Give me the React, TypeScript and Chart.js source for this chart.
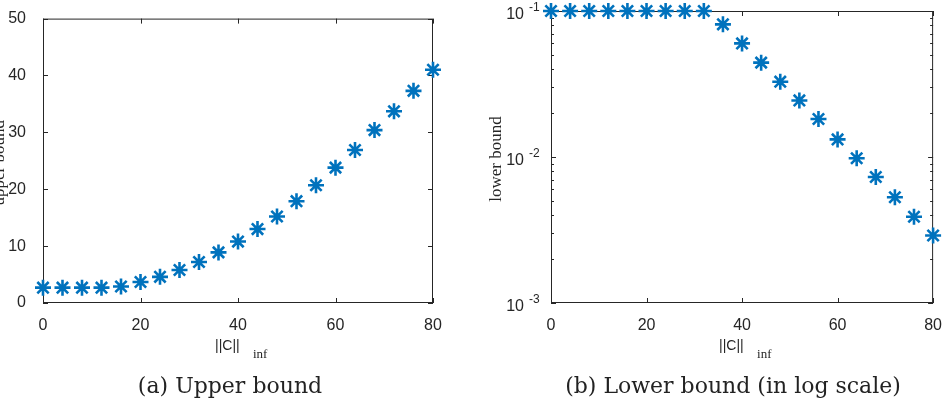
import { useEffect, useRef } from "react";
import { Chart, registerables } from "chart.js";

Chart.register(...registerables);

// ||C||_inf values on the horizontal axis of both panels
const normC = [0, 4, 8, 12, 16, 20, 24, 28, 32, 36, 40, 44, 48, 52, 56, 60, 64, 68, 72, 76, 80];
// panel (a): upper bound
const upperBound = [2.7, 2.7, 2.7, 2.7, 2.9, 3.7, 4.6, 5.8, 7.2, 8.9, 10.8, 13.0, 15.2, 17.9, 20.7, 23.8, 26.9, 30.4, 33.7, 37.3, 41.0];
// panel (b): lower bound (log axis)
const lowerBound = [0.1, 0.1, 0.1, 0.1, 0.1, 0.1, 0.1, 0.1, 0.1, 0.081, 0.060, 0.0443, 0.0328, 0.0244, 0.0182, 0.0132, 0.0098, 0.0073, 0.0053, 0.0039, 0.0029];

const xTickValues = [0, 20, 40, 60, 80];
const upperTickValues = [0, 10, 20, 30, 40, 50];
const lowerDecades = [-3, -2, -1];

const BLUE = "#0072BD";
const INK = "#262626";
const SANS = '"Liberation Sans", Arial, Helvetica, sans-serif';
const SERIF = '"Liberation Serif", "Times New Roman", serif';
const CAPTION_FONT = '"DejaVu Serif", serif';
const H = 407;

type PanelText = {
  log: boolean;
  yLabel: string;
  yLabelBaseX: number;
  caption: string;
  captionX: number;
};

function axesFrame(t: PanelText) {
  return {
    id: "axesFrame",
    beforeDatasetsDraw(chart: any) {
      const { ctx, chartArea } = chart;
      const { left, right, top, bottom } = chartArea;
      const xs = chart.scales.x;
      const ys = chart.scales.y;
      ctx.save();
      ctx.strokeStyle = INK;
      ctx.lineWidth = 1;
      ctx.strokeRect(left + 0.5, top + 0.5, right - left - 1, bottom - top - 1);
      ctx.beginPath();
      for (const v of xTickValues) {
        const px = Math.round(xs.getPixelForValue(v)) + 0.5;
        ctx.moveTo(px, bottom);
        ctx.lineTo(px, bottom - 5);
        ctx.moveTo(px, top);
        ctx.lineTo(px, top + 5);
      }
      const yTick = (v: number, len: number) => {
        const py = Math.round(ys.getPixelForValue(v)) + 0.5;
        ctx.moveTo(left, py);
        ctx.lineTo(left + len, py);
        ctx.moveTo(right, py);
        ctx.lineTo(right - len, py);
      };
      if (t.log) {
        for (const d of lowerDecades) {
          yTick(Math.pow(10, d), 5);
          if (d < -1) for (let k = 2; k <= 9; k++) yTick(k * Math.pow(10, d), 3);
        }
      } else {
        for (const v of upperTickValues) yTick(v, 5);
      }
      ctx.stroke();
      ctx.restore();
    },
    afterDraw(chart: any) {
      const { ctx, chartArea } = chart;
      const { left, right, top, bottom } = chartArea;
      const cx = (left + right) / 2;
      const ys = chart.scales.y;
      ctx.save();
      ctx.fillStyle = INK;

      // log tick labels: 10 with raised exponent
      if (t.log) {
        for (const d of lowerDecades) {
          const py = ys.getPixelForValue(Math.pow(10, d));
          ctx.font = `16px ${SANS}`;
          ctx.textAlign = "right";
          ctx.textBaseline = "middle";
          ctx.fillText("10", left - 27, py + 4);
          ctx.font = `12px ${SANS}`;
          ctx.textAlign = "left";
          ctx.fillText(String(d), left - 22, py - 3);
        }
      }

      // y-axis title
      ctx.save();
      ctx.translate(t.yLabelBaseX, (top + bottom) / 2 + 2);
      ctx.rotate(-Math.PI / 2);
      ctx.font = `17px ${SERIF}`;
      ctx.textAlign = "center";
      ctx.textBaseline = "alphabetic";
      ctx.fillText(t.yLabel, 0, 0);
      ctx.restore();

      // x-axis title ||C||_inf
      ctx.textBaseline = "middle";
      ctx.textAlign = "left";
      ctx.font = `14px ${SANS}`;
      ctx.fillText("||C||", cx - 23, bottom + 43);
      ctx.font = `13px ${SERIF}`;
      ctx.fillText("inf", cx + 15, bottom + 52);

      // sub-figure caption
      ctx.fillStyle = "#222";
      ctx.font = `22px ${CAPTION_FONT}`;
      ctx.textAlign = "center";
      ctx.fillText(t.caption, t.captionX, 387);
      ctx.restore();
    },
  };
}

function tickFont() {
  return { family: SANS, size: 16 };
}

function makeConfig(kind: "upper" | "lower"): any {
  const isLog = kind === "lower";
  const values = isLog ? lowerBound : upperBound;
  const width = isLog ? 477 : 470;
  const padLeftAxis = isLog ? 81 : 43;
  const padRight = isLog ? 10 : 37;
  const padTop = isLog ? 11 : 12;
  const text: PanelText = isLog
    ? { log: true, yLabel: "lower bound", yLabelBaseX: 31, caption: "(b) Lower bound (in log scale)", captionX: 263 }
    : { log: false, yLabel: "upper bound", yLabelBaseX: 4, caption: "(a) Upper bound", captionX: 230 };

  return {
    type: "scatter",
    data: {
      datasets: [
        {
          data: normC.map((x, i) => ({ x, y: values[i] })),
          pointStyle: "star",
          pointRadius: 8,
          pointBorderWidth: 2.6,
          borderColor: BLUE,
          backgroundColor: BLUE,
          showLine: false,
          clip: false,
        },
      ],
    },
    options: {
      animation: false,
      responsive: false,
      devicePixelRatio: 1,
      events: [],
      layout: { padding: { top: padTop, right: padRight, left: 0, bottom: 0 } },
      plugins: { legend: { display: false }, tooltip: { enabled: false } },
      scales: {
        x: {
          type: "linear",
          min: 0,
          max: 80,
          grid: { display: false },
          border: { display: false },
          afterBuildTicks: (s: any) => {
            s.ticks = xTickValues.map((v) => ({ value: v }));
          },
          afterFit: (s: any) => {
            s.height = H - 303;
          },
          ticks: { font: tickFont(), color: INK, padding: 5, maxRotation: 0, autoSkip: false },
        },
        y: isLog
          ? {
              type: "logarithmic",
              min: 0.001,
              max: 0.1,
              grid: { display: false },
              border: { display: false },
              afterBuildTicks: (s: any) => {
                s.ticks = lowerDecades.map((d) => ({ value: Math.pow(10, d) }));
              },
              afterFit: (s: any) => {
                s.width = padLeftAxis;
              },
              ticks: { display: false },
            }
          : {
              type: "linear",
              min: 0,
              max: 50,
              grid: { display: false },
              border: { display: false },
              afterBuildTicks: (s: any) => {
                s.ticks = upperTickValues.map((v) => ({ value: v }));
              },
              afterFit: (s: any) => {
                s.width = padLeftAxis;
              },
              ticks: { font: tickFont(), color: INK, padding: 9, autoSkip: false },
            },
      },
    },
    plugins: [axesFrame(text)],
    _width: width,
  };
}

function Panel({ kind, left, width }: { kind: "upper" | "lower"; left: number; width: number }) {
  const ref = useRef<HTMLCanvasElement>(null);
  useEffect(() => {
    const chart = new Chart(ref.current as HTMLCanvasElement, makeConfig(kind));
    return () => chart.destroy();
  }, [kind]);
  return (
    <canvas
      ref={ref}
      width={width}
      height={H}
      style={{ position: "absolute", left, top: 0, width, height: H }}
    />
  );
}

export default function App() {
  return (
    <div style={{ position: "absolute", left: 0, top: 0, width: 947, height: H, background: "#fff", overflow: "hidden" }}>
      <Panel kind="upper" left={0} width={470} />
      <Panel kind="lower" left={470} width={477} />
    </div>
  );
}
